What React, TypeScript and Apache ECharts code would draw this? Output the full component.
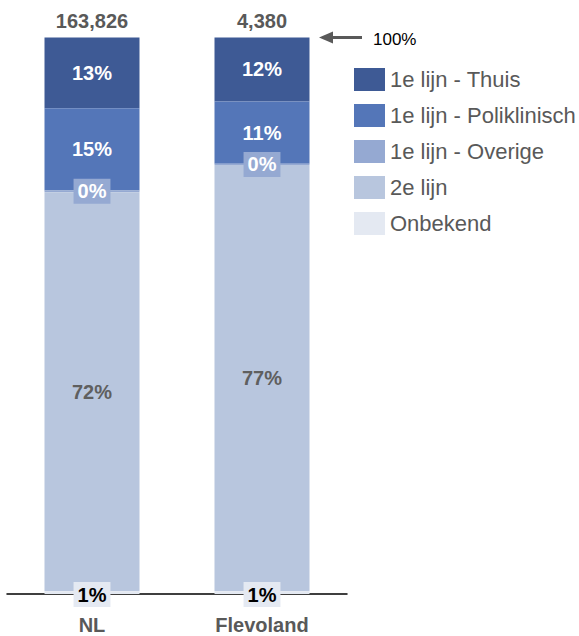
import React, { useEffect, useRef } from "react";
import * as echarts from "echarts";

const categories = ["NL", "Flevoland"];
const totals = [163826, 4380];
const seriesNames = [
  "1e lijn - Thuis",
  "1e lijn - Poliklinisch",
  "1e lijn - Overige",
  "2e lijn",
  "Onbekend",
];
const thuis = [12.7, 11.5];
const poliklinisch = [14.8, 11.2];
const overige = [0.3, 0.2];
const tweedeLijn = [71.7, 76.6];
const onbekend = [0.5, 0.5];

const colors = ["#3E5A95", "#5476B8", "#95A9D2", "#B8C6DE", "#E4E9F2"];
const FONT = '"Liberation Sans", Arial, sans-serif';

export default function App() {
  const ref = useRef<HTMLDivElement>(null);
  useEffect(() => {
    if (!ref.current) return;
    const chart = echarts.init(ref.current, undefined, { renderer: "svg" });
    const values = [thuis, poliklinisch, overige, tweedeLijn, onbekend];
    const fmt = (p: any) => Math.round(p.value) + "%";
    const labelStyles: any[] = [
      { color: "#fff" },
      { color: "#fff" },
      { color: "#fff", backgroundColor: colors[2], padding: [3, 4, 2, 4] },
      { color: "#5F5F5F" },
      { color: "#000", backgroundColor: colors[4], padding: [3, 4, 2, 4], offset: [0, 2] },
    ];
    chart.setOption({
      animation: false,
      textStyle: { fontFamily: FONT },
      grid: { left: 7, right: 232, top: 37.5, bottom: 42, containLabel: false },
      legend: {
        orient: "vertical",
        left: 354,
        top: 68,
        padding: 0,
        itemWidth: 31,
        itemHeight: 23,
        itemGap: 13,
        icon: "rect",
        selectedMode: false,
        textStyle: { fontSize: 22, color: "#595959", fontFamily: FONT },
        data: seriesNames,
      },
      xAxis: [
        {
          type: "category",
          data: categories,
          position: "bottom",
          axisTick: { show: false },
          axisLine: { onZero: false, lineStyle: { color: "#000", width: 1.5 } },
          axisLabel: {
            margin: 21,
            fontSize: 20,
            fontWeight: "bold",
            color: "#595959",
            fontFamily: FONT,
          },
          z: 0,
        },
        {
          type: "category",
          data: totals.map((t) => t.toLocaleString("en-US")),
          position: "top",
          axisTick: { show: false },
          axisLine: { show: false, onZero: false },
          axisLabel: {
            margin: 7,
            fontSize: 20,
            fontWeight: "bold",
            color: "#595959",
            fontFamily: FONT,
          },
        },
      ],
      yAxis: { type: "value", min: 0, max: 100, inverse: true, show: false },
      series: seriesNames.map((name, i) => ({
        name,
        type: "bar",
        stack: "total",
        barWidth: 95,
        data: values[i],
        itemStyle: { color: colors[i] },
        label: {
          show: true,
          position: "inside",
          formatter: fmt,
          fontSize: 20,
          fontWeight: "bold",
          fontFamily: FONT,
          ...labelStyles[i],
        },
      })),
      graphic: [
        {
          type: "line",
          shape: { x1: 331, y1: 37.5, x2: 362, y2: 37.5 },
          style: { stroke: "#595959", lineWidth: 3 },
        },
        {
          type: "polygon",
          shape: { points: [[319, 37.5], [333, 31.5], [333, 43.5]] },
          style: { fill: "#595959" },
        },
        {
          type: "text",
          x: 373,
          y: 39,
          style: {
            text: "100%",
            fontSize: 17,
            fill: "#000",
            fontFamily: FONT,
            verticalAlign: "middle",
          },
        },
      ],
    });
    return () => chart.dispose();
  }, []);
  return (
    <div
      ref={ref}
      style={{ position: "fixed", left: 0, top: 0, width: 579, height: 636, background: "#fff" }}
    />
  );
}
